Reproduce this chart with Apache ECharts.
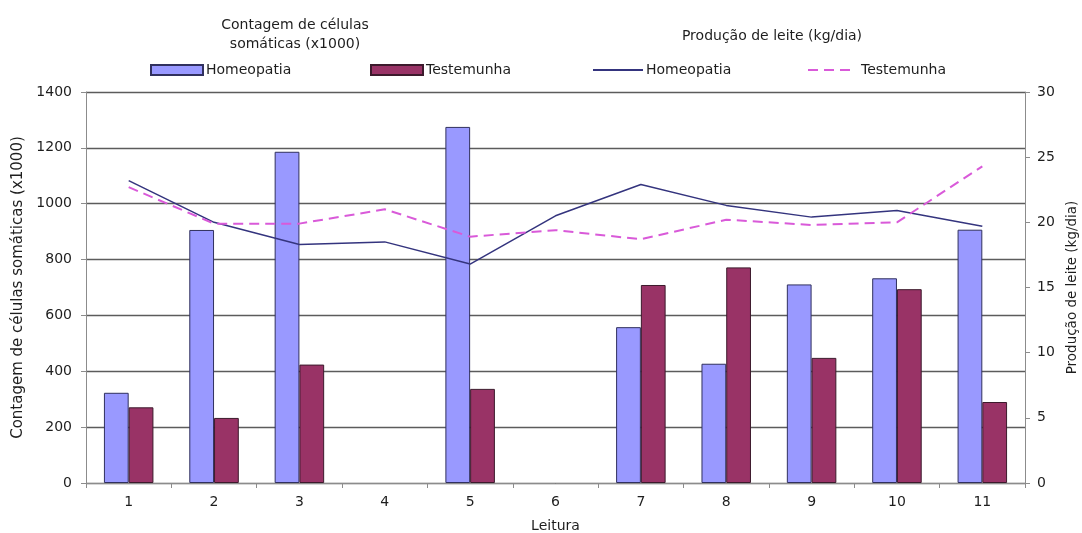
<!DOCTYPE html>
<html>
<head>
<meta charset="utf-8">
<script src="https://cdn.jsdelivr.net/npm/echarts@6/dist/echarts.min.js"></script>
<style>
  html, body { margin: 0; padding: 0; background: #ffffff; }
  #chart { width: 1082px; height: 533px; }
</style>
</head>
<body>
<div id="chart"></div>
<script>
// Leituras (reading number)
const categories = ['1', '2', '3', '4', '5', '6', '7', '8', '9', '10', '11'];

// Contagem de células somáticas (x1000) — bars, left axis
const ccsHomeopatia = [323, 906, 1186, null, 1275, null, 558, 427, 711, 733, 907];
const ccsTestemunha = [271, 233, 424, null, 337, null, 709, 772, 448, 694, 290];

// Produção de leite (kg/dia) — lines, right axis
const leiteHomeopatia = [23.2, 20.0, 18.3, 18.5, 16.8, 20.5, 22.9, 21.3, 20.4, 20.9, 19.7];
const leiteTestemunha = [22.7, 19.9, 19.9, 21.0, 18.9, 19.4, 18.7, 20.2, 19.8, 20.0, 24.3];

// Axis ranges
const ccsAxis = { min: 0, max: 1400, interval: 200 };
const leiteAxis = { min: 0, max: 30, interval: 5 };

const FONT = 'DejaVu Sans';
const TEXT = '#1e1e1e';
const AXIS_GREY = '#8c8c8c';

// Series ids keep bar and line entries apart; the legend shows the group label only
const label = name => name.split(' ').slice(1).join(' ');

const legendBase = {
  top: 58,
  itemHeight: 10,
  itemGap: 0,
  textStyle: { fontFamily: FONT, fontSize: 14, color: TEXT, padding: [0, 0, 0, -2] },
  formatter: label,
  selectedMode: false
};

const chart = echarts.init(document.getElementById('chart'), null, { renderer: 'canvas' });

chart.setOption({
  animation: false,
  backgroundColor: '#ffffff',
  textStyle: { fontFamily: FONT },
  title: [
    {
      text: 'Contagem de células\nsomáticas (x1000)',
      left: 290, top: 11, textAlign: 'center',
      textStyle: { fontFamily: FONT, fontSize: 14, fontWeight: 'normal', color: TEXT, lineHeight: 19 }
    },
    {
      text: 'Produção de leite (kg/dia)',
      left: 767, top: 24, textAlign: 'center',
      textStyle: { fontFamily: FONT, fontSize: 14, fontWeight: 'normal', color: TEXT }
    }
  ],
  legend: [
    Object.assign({}, legendBase, { left: 145, itemWidth: 52, icon: 'rect', data: ['CCS Homeopatia'] }),
    Object.assign({}, legendBase, { left: 365, itemWidth: 52, icon: 'rect', data: ['CCS Testemunha'] }),
    Object.assign({}, legendBase, { left: 587, itemWidth: 50, itemStyle: { opacity: 0 }, data: ['Leite Homeopatia'] }),
    Object.assign({}, legendBase, { left: 802, itemWidth: 46, itemStyle: { opacity: 0 }, data: ['Leite Testemunha'],
      textStyle: Object.assign({}, legendBase.textStyle, { padding: [0, 0, 0, 2] }) })
  ],
  grid: { left: 86, right: 57, top: 92, bottom: 50, containLabel: false, outerBoundsMode: 'none' },
  xAxis: {
    type: 'category',
    data: categories,
    name: 'Leitura',
    nameLocation: 'middle',
    nameGap: 36,
    nameTextStyle: { fontFamily: FONT, fontSize: 14, color: TEXT },
    axisLine: { lineStyle: { color: AXIS_GREY, width: 1 } },
    axisTick: { show: true, alignWithLabel: false, length: 5, lineStyle: { color: AXIS_GREY } },
    axisLabel: { fontFamily: FONT, fontSize: 14, color: TEXT, margin: 12 },
    splitLine: { show: false }
  },
  yAxis: [
    {
      type: 'value',
      position: 'left',
      min: ccsAxis.min, max: ccsAxis.max, interval: ccsAxis.interval,
      name: 'Contagem de células somáticas (x1000)',
      nameLocation: 'middle',
      nameGap: 60,
      nameTextStyle: { fontFamily: FONT, fontSize: 15, color: TEXT },
      axisLine: { show: true, lineStyle: { color: AXIS_GREY, width: 1 } },
      axisTick: { show: true, length: 5, lineStyle: { color: AXIS_GREY } },
      axisLabel: { fontFamily: FONT, fontSize: 14, color: TEXT, margin: 14, formatter: v => String(v) },
      splitLine: { show: true, lineStyle: { color: '#5c5c5c', width: 1.3 } }
    },
    {
      type: 'value',
      position: 'right',
      min: leiteAxis.min, max: leiteAxis.max, interval: leiteAxis.interval,
      name: 'Produção de leite (kg/dia)',
      nameLocation: 'middle',
      nameGap: 39,
      nameTextStyle: { fontFamily: FONT, fontSize: 13.5, color: TEXT },
      axisLine: { show: true, lineStyle: { color: AXIS_GREY, width: 1 } },
      axisTick: { show: true, length: 5, lineStyle: { color: AXIS_GREY } },
      axisLabel: { fontFamily: FONT, fontSize: 14, color: TEXT, margin: 12, formatter: v => String(v) },
      splitLine: { show: false }
    }
  ],
  series: [
    {
      name: 'CCS Homeopatia',
      type: 'bar',
      yAxisIndex: 0,
      data: ccsHomeopatia,
      barGap: '0%',
      barCategoryGap: '42%',
      itemStyle: { color: '#9999ff', borderColor: '#30305e', borderWidth: 1 }
    },
    {
      name: 'CCS Testemunha',
      type: 'bar',
      yAxisIndex: 0,
      data: ccsTestemunha,
      barGap: '0%',
      barCategoryGap: '42%',
      itemStyle: { color: '#993366', borderColor: '#3c1a2c', borderWidth: 1 }
    },
    {
      name: 'Leite Homeopatia',
      type: 'line',
      yAxisIndex: 1,
      data: leiteHomeopatia,
      symbol: 'none',
      lineStyle: { color: '#34347e', width: 1.5 },
      itemStyle: { color: '#34347e' },
      z: 5
    },
    {
      name: 'Leite Testemunha',
      type: 'line',
      yAxisIndex: 1,
      data: leiteTestemunha,
      symbol: 'none',
      lineStyle: { color: '#d95ad9', width: 2, type: [10, 6] },
      itemStyle: { color: '#d95ad9' },
      z: 5
    }
  ]
});
</script>
</body>
</html>
